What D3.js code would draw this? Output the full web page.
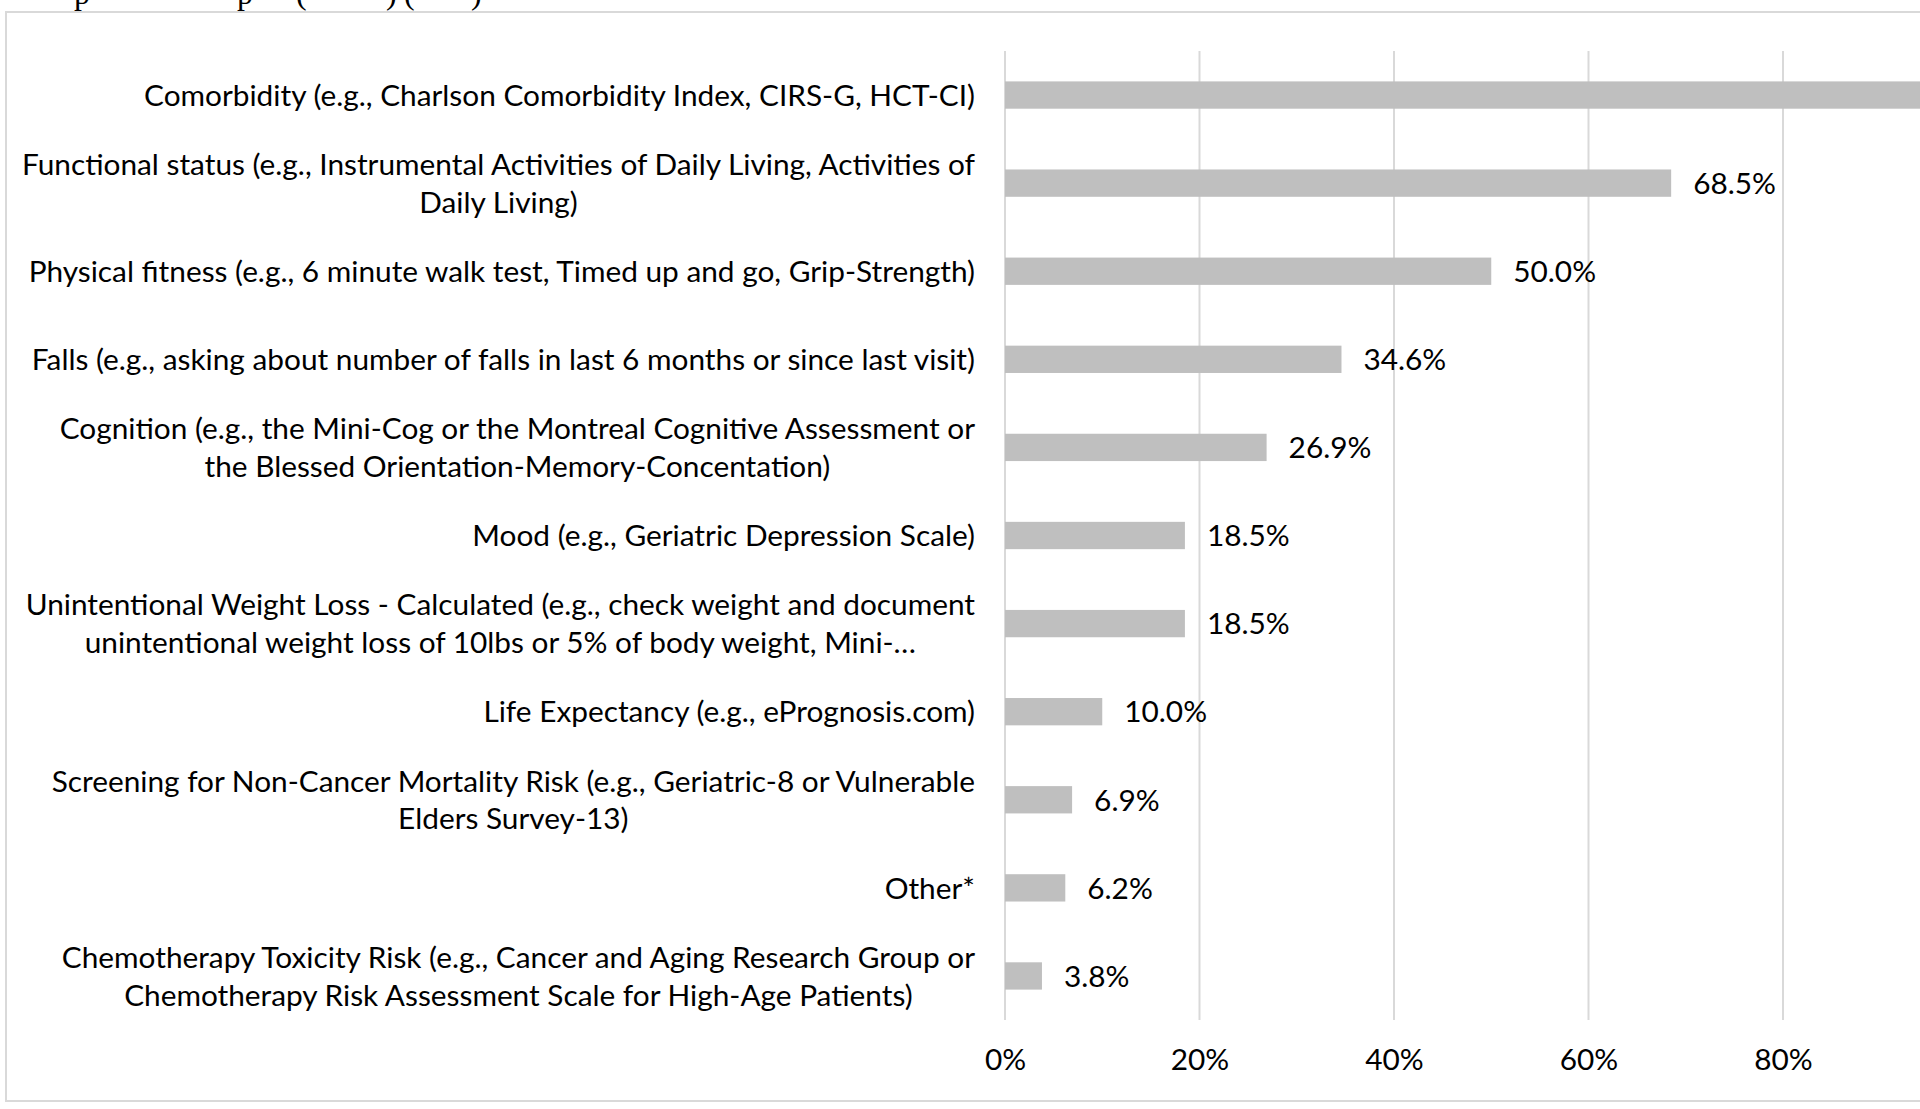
<!DOCTYPE html>
<html>
<head>
<meta charset="utf-8">
<script src="https://cdn.jsdelivr.net/npm/d3@7"></script>
<style>
  body { margin: 0; background: #fff; overflow: hidden; }
  .label-styling { font-family: Lato, "Open Sans", sans-serif; font-size: 29.8px; fill: #000; }
  .title-styling { font-family: "Liberation Serif", serif; font-size: 32px; fill: #000; }
</style>
</head>
<body>
<div id="viz"></div>
<script>

// categories, top to bottom (wrapped lines as in the original)
const labels = [
  ["Comorbidity (e.g., Charlson Comorbidity Index, CIRS-G, HCT-CI)"],
  ["Functional status (e.g., Instrumental Activities of Daily Living, Activities of", "Daily Living)"],
  ["Physical fitness (e.g., 6 minute walk test, Timed up and go, Grip-Strength)"],
  ["Falls (e.g., asking about number of falls in last 6 months or since last visit)"],
  ["Cognition (e.g., the Mini-Cog or the Montreal Cognitive Assessment or", "the Blessed Orientation-Memory-Concentation)"],
  ["Mood (e.g., Geriatric Depression Scale)"],
  ["Unintentional Weight Loss - Calculated (e.g., check weight and document", "unintentional weight loss of 10lbs or 5% of body weight, Mini-\u2026"],
  ["Life Expectancy (e.g., ePrognosis.com)"],
  ["Screening for Non-Cancer Mortality Risk (e.g., Geriatric-8 or Vulnerable", "Elders Survey-13)"],
  ["Other*"],
  ["Chemotherapy Toxicity Risk (e.g., Cancer and Aging Research Group or", "Chemotherapy Risk Assessment Scale for High-Age Patients)"]
];
// percent of respondents
const values = [95.4, 68.5, 50.0, 34.6, 26.9, 18.5, 18.5, 10.0, 6.9, 6.2, 3.8];
const xTicks = [0, 20, 40, 60, 80, 100];
// what is left of the cut-off title line above the frame
const titleBits = ["p", "p", "(", ")", "(", ")"];
const titleBitX = [74, 237, 296, 386, 404, 471];

const width = 1920, height = 1109;
const plot = {left: 1005, right: 1977.5, top: 51, bottom: 1020};
const lineGap = 37.8;

const data = labels.map((l, i) => ({id: String(i), lines: l, value: values[i]}));

const svg = d3.select("#viz")
  .append("svg")
  .attr("width", width)
  .attr("height", height)
  .attr("viewBox", [0, 0, width, height]);

// chart frame
svg.append("rect")
  .attr("x", 6).attr("y", 12)
  .attr("width", 1930).attr("height", 1089)
  .attr("fill", "#fff")
  .attr("stroke", "#d9d9d9")
  .attr("stroke-width", 2);

// cut-off title glyphs
svg.append("text")
  .attr("class", "title-styling")
  .selectAll("tspan")
  .data(titleBits)
  .enter()
  .append("tspan")
    .attr("x", (d, i) => titleBitX[i])
    .attr("y", 4)
    .text(d => d);

// x scale
const x = d3.scaleLinear()
  .domain([0, 100])
  .range([plot.left, plot.right]);

// y scale
const y = d3.scaleBand()
  .domain(data.map(d => d.id))
  .range([plot.top, plot.bottom])
  .paddingInner(0.69)
  .paddingOuter(0.345);

// gridlines
svg.append("g")
  .selectAll("line")
  .data(xTicks)
  .enter()
  .append("line")
    .attr("x1", d => x(d)).attr("x2", d => x(d))
    .attr("y1", plot.top).attr("y2", plot.bottom)
    .attr("stroke", "#d9d9d9")
    .attr("stroke-width", 2);

// x axis labels (no domain line, no ticks)
svg.append("g")
  .attr("transform", `translate(0, ${plot.bottom})`)
  .call(d3.axisBottom(x).tickValues(xTicks).tickFormat(d => d + "%").tickSize(0).tickPadding(29))
  .call(g => g.select(".domain").remove())
  .call(g => g.selectAll("text").attr("class", "label-styling").attr("font-size", null).attr("font-family", null));

// bars
svg.append("g")
  .attr("class", "rect-bars")
  .selectAll("rect")
  .data(data)
  .enter()
  .append("rect")
    .attr("x", x(0))
    .attr("y", d => y(d.id))
    .attr("width", d => x(d.value) - x(0))
    .attr("height", y.bandwidth())
    .attr("fill", "#bfbfbf");

// value labels
svg.append("g")
  .selectAll("text")
  .data(data)
  .enter()
  .append("text")
    .attr("class", "label-styling")
    .attr("x", d => x(d.value) + 22)
    .attr("y", d => y(d.id) + y.bandwidth() / 2)
    .attr("dy", "0.36em")
    .text(d => d.value.toFixed(1) + "%");

// category labels: lines centred on each other, block right-aligned
const catG = svg.append("g")
  .selectAll("g")
  .data(data)
  .enter()
  .append("g")
    .attr("transform", d => `translate(0, ${y(d.id) + y.bandwidth() / 2})`);

catG.each(function(d) {
  const g = d3.select(this);
  const t = g.selectAll("text")
    .data(d.lines)
    .enter()
    .append("text")
      .attr("class", "label-styling")
      .attr("text-anchor", "middle")
      .attr("y", (l, i) => (i - (d.lines.length - 1) / 2) * lineGap)
      .attr("dy", "0.36em")
      .text(l => l);
  const maxW = d3.max(t.nodes(), n => n.getComputedTextLength());
  t.attr("x", 975 - maxW / 2);
});

</script>
</body>
</html>
